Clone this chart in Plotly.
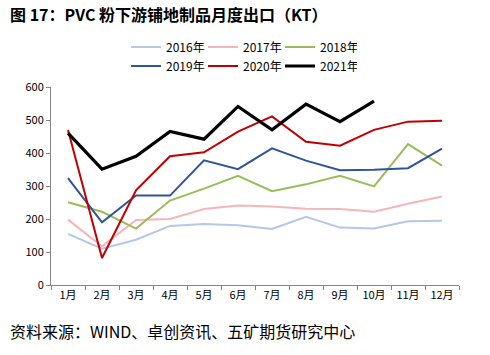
import plotly.graph_objects as go

months = ["1月", "2月", "3月", "4月", "5月", "6月", "7月", "8月", "9月", "10月", "11月", "12月"]
y2016 = [155, 110, 137, 179, 185, 181, 170, 207, 174, 171, 193, 195]
y2017 = [198, 117, 197, 200, 230, 241, 238, 231, 230, 222, 246, 268]
y2018 = [251, 222, 171, 256, 292, 331, 284, 305, 331, 299, 427, 362]
y2019 = [324, 190, 271, 271, 378, 351, 414, 377, 348, 349, 354, 413]
y2020 = [470, 82, 287, 390, 402, 465, 511, 434, 422, 470, 495, 498]
y2021 = [460, 351, 390, 465, 442, 541, 470, 548, 495, 557]
y_ticks = [0, 100, 200, 300, 400, 500, 600]

FONT = "Noto Sans CJK SC"
series = [
    ("2016年", y2016, "#B4C7E7", 2, "legend"),
    ("2017年", y2017, "#F4B6BB", 2, "legend"),
    ("2018年", y2018, "#9BBB59", 2, "legend"),
    ("2019年", y2019, "#2F5597", 2, "legend2"),
    ("2020年", y2020, "#C00000", 2, "legend2"),
    ("2021年", y2021, "#000000", 3.2, "legend2"),
]

fig = go.Figure()
for name, vals, color, width, leg in series:
    fig.add_trace(go.Scatter(
        x=months[:len(vals)], y=vals, name=name, mode="lines",
        line=dict(color=color, width=width), legend=leg,
    ))

W, H = 490, 355
L, R, T, B = 51, 459, 87, 285
pw, ph = R - L, B - T

def px(x):
    return (x - L) / pw

def py(y):
    return (B - y) / ph

leg_common = dict(orientation="h", font=dict(family=FONT, size=12, color="#000"),
                  itemwidth=30, entrywidth=32, entrywidthmode="pixels",
                  xanchor="left", yanchor="middle", bgcolor="rgba(0,0,0,0)",
                  tracegroupgap=0, itemclick=False)

fig.update_layout(
    width=W, height=H,
    margin=dict(l=L, r=W - R, t=T, b=H - B, pad=0, autoexpand=False),
    paper_bgcolor="white", plot_bgcolor="white",
    showlegend=True,
    legend=dict(x=px(126), y=py(47), **leg_common),
    legend2=dict(x=px(126), y=py(66), **leg_common),
    xaxis=dict(
        type="category", categoryorder="array", categoryarray=months,
        range=[-0.5, 11.5],
        showline=True, linecolor="#868686", linewidth=1,
        ticks="outside", ticklen=4, tickcolor="#868686", tickson="boundaries",
        showgrid=False, zeroline=False,
        tickfont=dict(family=FONT, size=11, color="#000"),
    ),
    yaxis=dict(
        range=[0, 600], tickvals=y_ticks,
        showline=True, linecolor="#868686", linewidth=1,
        ticks="outside", ticklen=4, tickcolor="#868686",
        showgrid=False, zeroline=False,
        tickfont=dict(family=FONT, size=11, color="#000"),
    ),
    annotations=[
        dict(text="<b>图 17：PVC 粉下游铺地制品月度出口（KT）</b>",
             xref="paper", yref="paper", x=px(8), y=py(14),
             xanchor="left", yanchor="middle", showarrow=False,
             font=dict(family=FONT, size=16, color="#000")),
        dict(text="资料来源：WIND、卓创资讯、五矿期货研究中心",
             xref="paper", yref="paper", x=px(8), y=py(331),
             xanchor="left", yanchor="middle", showarrow=False,
             font=dict(family=FONT, size=16, color="#000")),
    ],
)

fig.write_html("out.html", config={"displayModeBar": False},
               post_script="document.body.style.margin='0';")
